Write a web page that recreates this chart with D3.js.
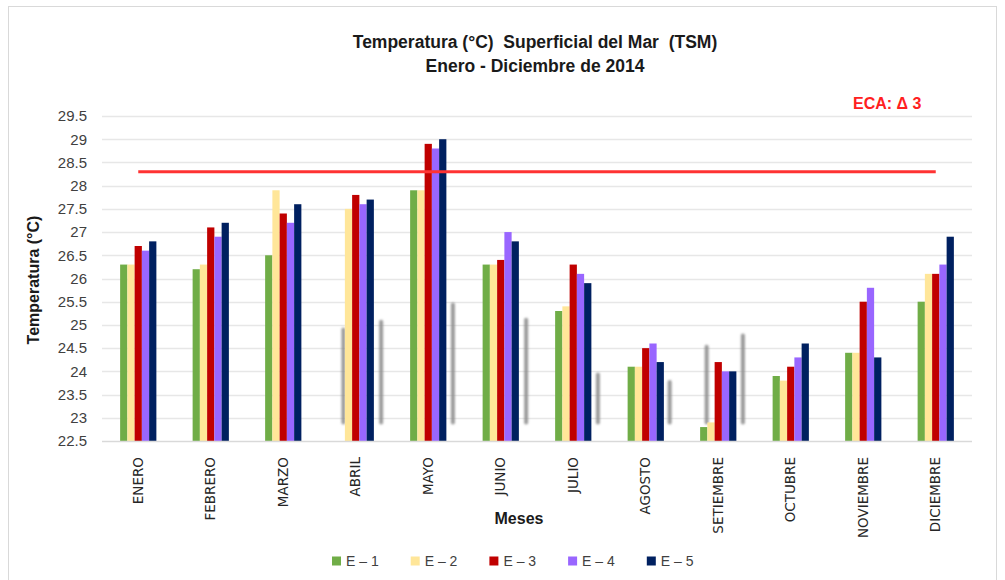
<!DOCTYPE html>
<html><head><meta charset="utf-8">
<script src="https://cdn.jsdelivr.net/npm/d3@7"></script>
<style>
body{margin:0;background:#fff;}
svg{display:block;}
</style></head>
<body>
<svg id="chart" width="1005" height="580"></svg>
<script>
const months = ["ENERO","FEBRERO","MARZO","ABRIL","MAYO","JUNIO","JULIO","AGOSTO","SETIEMBRE","OCTUBRE","NOVIEMBRE","DICIEMBRE"];
const seriesNames = ["E – 1","E – 2","E – 3","E – 4","E – 5"];
const e1 = [26.3,26.2,26.5,null,27.9,26.3,25.3,24.1,22.8,23.9,24.4,25.5];
const e2 = [26.3,26.3,27.9,27.5,27.9,26.3,25.4,24.1,22.9,23.8,24.4,26.1];
const e3 = [26.7,27.1,27.4,27.8,28.9,26.4,26.3,24.5,24.2,24.1,25.5,26.1];
const e4 = [26.6,26.9,27.2,27.6,28.8,27.0,26.1,24.6,24.0,24.3,25.8,26.3];
const e5 = [26.8,27.2,27.6,27.7,29.0,26.8,25.9,24.2,24.0,24.6,24.3,26.9];
const seriesColors = ["#70AD47","#FFE699","#C00000","#9966FF","#002060"];
const yTicks = [22.5,23,23.5,24,24.5,25,25.5,26,26.5,27,27.5,28,28.5,29,29.5];
const ecaValue = 28.3;
const ecaLabel = "ECA: Δ 3";
// faint gray vertical marks visible in the picture (month, offset in band, top, bottom)
const shadeMonths = ["ABRIL","ABRIL","MAYO","JUNIO","JULIO","AGOSTO","SETIEMBRE","SETIEMBRE"];
const shadeOffsets = [-0.17,0.35,0.34,0.35,0.34,0.33,-0.16,0.34];
const shadeTops = [24.9,25.07,25.44,25.11,23.93,23.77,24.53,24.77];
const shadeBottoms = [22.9,22.9,22.9,22.9,22.9,22.9,22.9,22.9];

const allSeries = [e1,e2,e3,e4,e5];
const svg = d3.select("#chart");

// frame
svg.append("rect").attr("x",8.5).attr("y",6.5).attr("width",988).attr("height",590)
  .attr("fill","#fff").attr("stroke","#d9d9d9").attr("stroke-width",1);

const pLeft = 102, pRight = 972, pTop = 116, pBottom = 441;
const x0 = d3.scaleBand().domain(months).range([pLeft,pRight]).padding(0);
const bw = x0.bandwidth();
const x1 = d3.scaleBand().domain(seriesNames).range([bw*0.25, bw*0.75]).padding(0);
const y = d3.scaleLinear().domain([22.5,29.5]).range([pBottom, pTop]);

// gridlines
svg.append("g").selectAll("line").data(yTicks.slice(1)).join("line")
  .attr("x1",pLeft).attr("x2",pRight)
  .attr("y1",d=>Math.round(y(d))+0.5).attr("y2",d=>Math.round(y(d))+0.5)
  .attr("stroke","#e7e7e7").attr("stroke-width",1.3);

// y axis labels
const yAxis = d3.axisLeft(y).tickValues(yTicks).tickSize(0).tickPadding(0).tickFormat(d=>String(d));
const yg = svg.append("g").attr("transform",`translate(${pLeft-15},0)`).call(yAxis);
yg.select(".domain").remove();
yg.selectAll("text").attr("font-family","Liberation Sans, Arial, sans-serif").attr("font-size",15).attr("fill","#404040");

// blur filter
const defs = svg.append("defs");
defs.append("filter").attr("id","blur").attr("x","-50%").attr("y","-10%").attr("width","200%").attr("height","120%")
  .append("feGaussianBlur").attr("stdDeviation",1.2);

// shade marks
const shades = shadeMonths.map((m,i)=>({m, o:shadeOffsets[i], t:shadeTops[i], b:shadeBottoms[i]}));
svg.append("g").attr("filter","url(#blur)").selectAll("line").data(shades).join("line")
  .attr("x1",d=>x0(d.m)+bw/2+d.o*bw).attr("x2",d=>x0(d.m)+bw/2+d.o*bw)
  .attr("y1",d=>y(d.t)).attr("y2",d=>y(d.b))
  .attr("stroke","#8a8a8a").attr("stroke-width",4).attr("stroke-linecap","round").attr("opacity",0.85);

// bars
const barData = [];
months.forEach((m,i)=>{
  allSeries.forEach((s,j)=>{
    if(s[i]!==null && s[i]!==undefined) barData.push({m, s:seriesNames[j], v:s[i], c:seriesColors[j]});
  });
});
svg.append("g").selectAll("rect").data(barData).join("rect")
  .attr("x",d=>x0(d.m)+x1(d.s)).attr("width",x1.bandwidth())
  .attr("y",d=>y(d.v)).attr("height",d=>y(22.5)-y(d.v))
  .attr("fill",d=>d.c);

// x axis line
svg.append("line").attr("x1",pLeft).attr("x2",pRight).attr("y1",pBottom+0.5).attr("y2",pBottom+0.5)
  .attr("stroke","#d9d9d9").attr("stroke-width",1.3);

// ECA line
svg.append("line")
  .attr("x1",x0(months[0])+bw/2).attr("x2",x0(months[months.length-1])+bw/2)
  .attr("y1",y(ecaValue)).attr("y2",y(ecaValue))
  .attr("stroke","#FF3333").attr("stroke-width",3);
svg.append("text").attr("x",853).attr("y",109).text(ecaLabel)
  .attr("font-family","Liberation Sans Narrow, Arial Narrow, sans-serif").attr("font-weight","bold")
  .attr("font-size",16).attr("fill","#FF2020");

// month labels
const xAxis = d3.axisBottom(x0).tickSize(0).tickPadding(0);
const xg = svg.append("g").attr("transform",`translate(0,${pBottom})`).call(xAxis);
xg.select(".domain").remove();
xg.selectAll("text")
  .attr("transform","rotate(-90)")
  .attr("x",-16).attr("y",0).attr("dy","0.35em")
  .attr("text-anchor","end")
  .attr("font-family","DejaVu Sans, Verdana, sans-serif").attr("font-size",13.5).attr("fill","#262626");

// titles
const title = svg.append("text").attr("text-anchor","middle")
  .attr("font-family","Liberation Sans Narrow, Arial Narrow, sans-serif").attr("font-weight","bold")
  .attr("font-size",17.5).attr("fill","#1a1a1a").attr("style","white-space:pre");
title.append("tspan").attr("x",535).attr("y",48).text("Temperatura (°C)  Superficial del Mar  (TSM)");
title.append("tspan").attr("x",535).attr("y",72).text("Enero - Diciembre de 2014");

svg.append("text").attr("transform","translate(39,280) rotate(-90)").attr("text-anchor","middle")
  .attr("font-family","Liberation Sans Narrow, Arial Narrow, sans-serif").attr("font-weight","bold")
  .attr("font-size",16).attr("fill","#1a1a1a").text("Temperatura (°C)");

svg.append("text").attr("x",519).attr("y",524).attr("text-anchor","middle")
  .attr("font-family","Liberation Sans Narrow, Arial Narrow, sans-serif").attr("font-weight","bold")
  .attr("font-size",16).attr("fill","#1a1a1a").text("Meses");

// legend
const legX = d3.scaleBand().domain(seriesNames).range([332, 332+78.7*5]);
const lg = svg.append("g").selectAll("g").data(seriesNames).join("g")
  .attr("transform",d=>`translate(${legX(d)},561)`);
lg.append("rect").attr("x",0).attr("y",-4.5).attr("width",9).attr("height",9)
  .attr("fill",(d,i)=>seriesColors[i]);
lg.append("text").attr("x",14).attr("y",0).attr("dy","0.36em").text(d=>d)
  .attr("font-family","Liberation Sans, Arial, sans-serif").attr("font-size",14).attr("fill","#404040");
</script>
</body></html>
